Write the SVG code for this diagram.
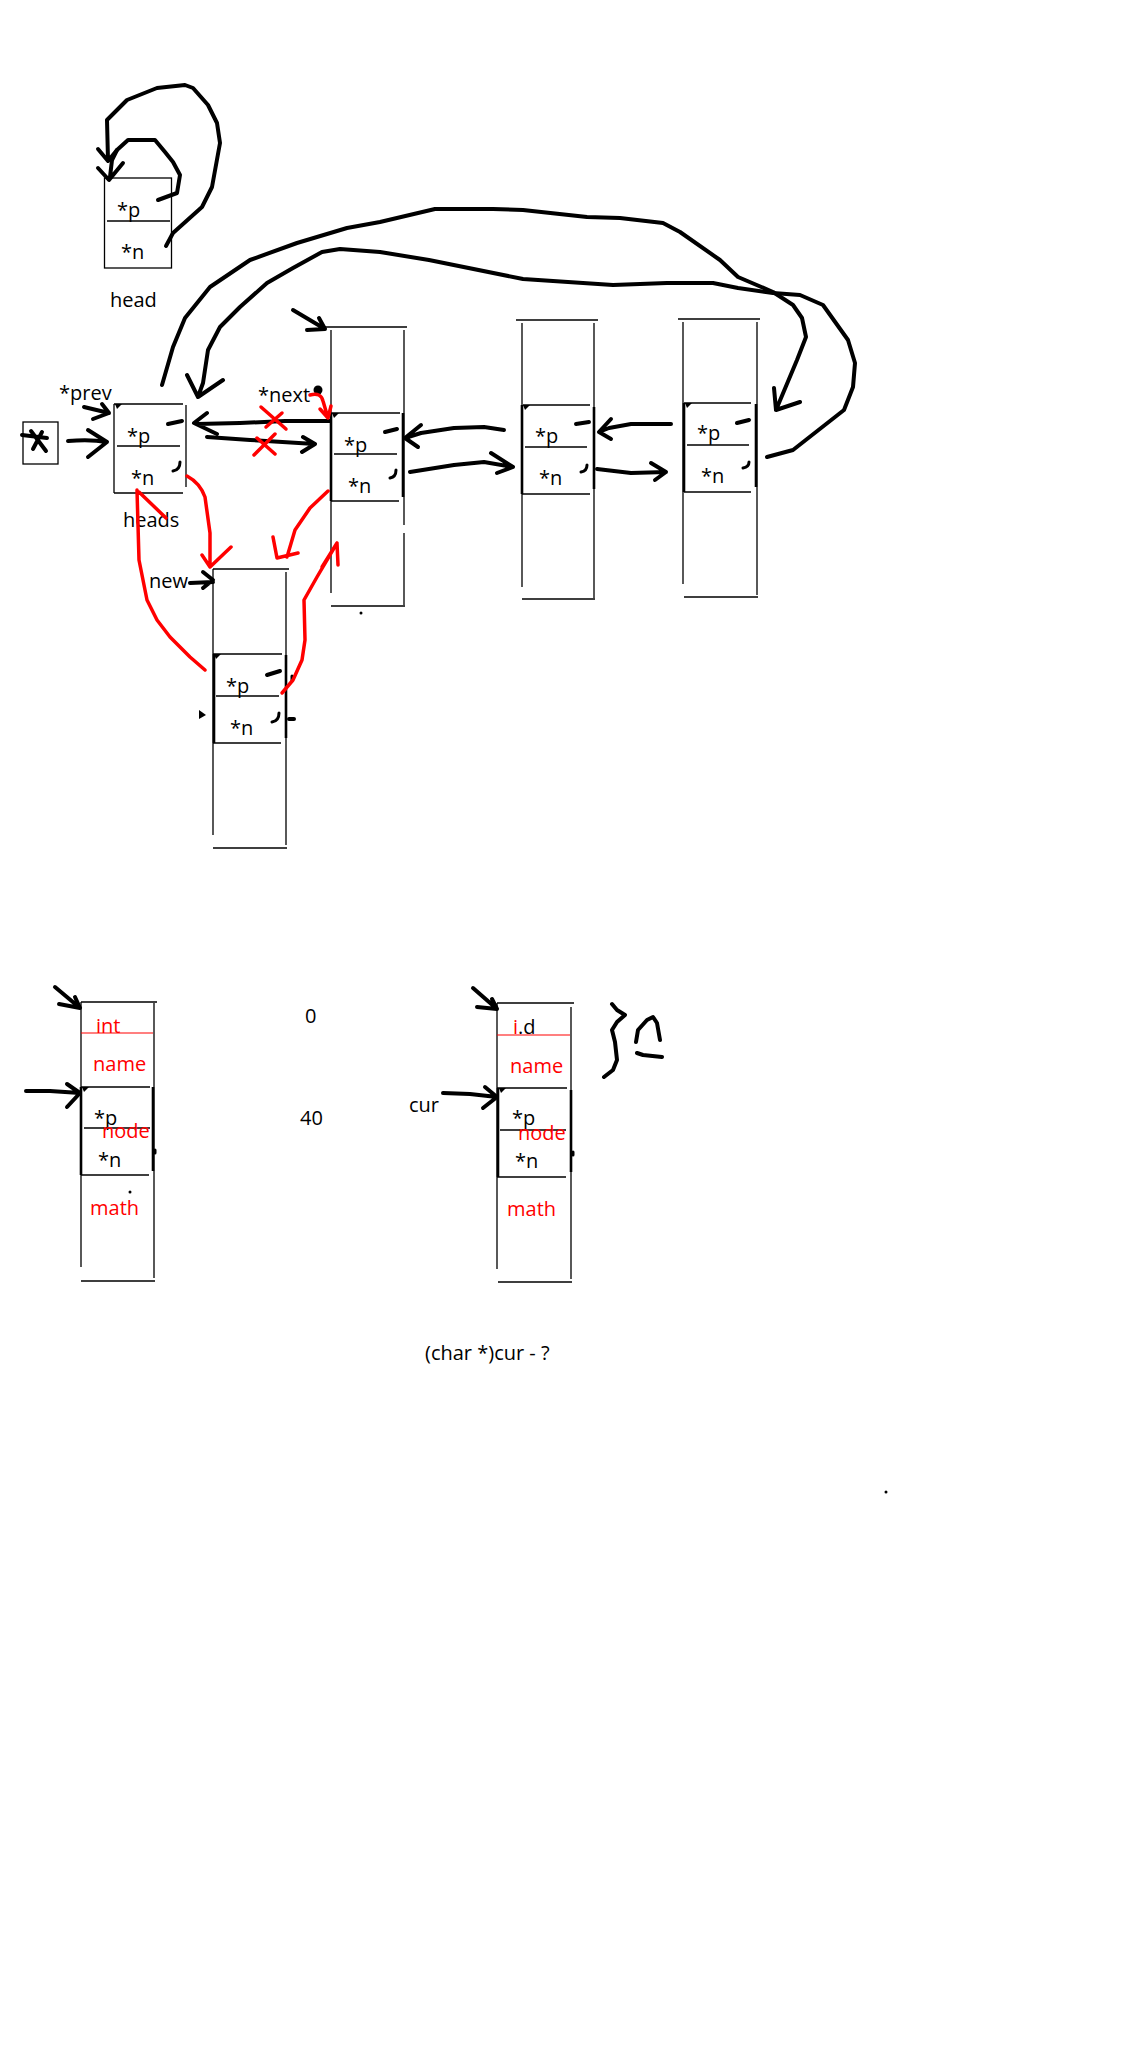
<svg xmlns="http://www.w3.org/2000/svg" width="1134" height="2048" viewBox="0 0 1134 2048">
<style>
.b{fill:none;stroke:#000;stroke-width:1.3}
.bb{fill:none;stroke:#000;stroke-width:2.6}
.rl{fill:none;stroke:#f00;stroke-width:1.2}
.pen{fill:none;stroke:#000;stroke-width:4;stroke-linecap:round;stroke-linejoin:round}
.pen3{fill:none;stroke:#000;stroke-width:3;stroke-linecap:round;stroke-linejoin:round}
.red{fill:none;stroke:#f00;stroke-width:3.5;stroke-linecap:round;stroke-linejoin:round}
text{font-family:"Open Sans","Noto Sans",sans-serif;font-size:20px;fill:#000}
.rt{fill:#f00}
</style>
<rect width="1134" height="2048" fill="#fff"/>
<g id="node-head">
<rect x="104.5" y="178" width="67" height="90" class="b"/>
<line x1="107" y1="221" x2="170" y2="221" class="b"/>
<text x="117" y="217">*p</text>
<text x="121" y="259">*n</text>
<text x="110" y="307">head</text>
</g>
<g id="node-x">
<rect x="23" y="422" width="35" height="42" class="b"/>
<path class="pen" d="M22,435 L47,438 M31,431 L46,451 M42,432 L33,449"/>
</g>
<g id="node-heads">
<path class="b" d="M114,404 L183,404 M114,404 L114,493 M114,493 L183,493 M186,405 L186,487 M117,446 L180,446"/>
<polygon points="115,404 122,404 117,409" fill="#000"/>
<path class="pen" d="M168,424 L182,421"/>
<path class="pen3" d="M173,471 Q180,470 180,462"/>
<text x="127" y="443">*p</text>
<text x="131" y="485">*n</text>
<text x="123" y="527">heads</text>
<text x="59" y="400">*prev</text>
</g>
<g id="node-2">
<path class="b" d="M325,327 L407,327 M331,330 L331,593 M404,330 L404,525 M404,533 L404,605 M331,606 L405,606 M331,413 L400,413 M334,454 L397,454 M331,501 L399,501"/>
<path class="bb" d="M331,413 L331,501 M403,413 L403,497"/>
<polygon points="332,413 339,413 334,418" fill="#000"/>
<circle cx="361" cy="613" r="1.5" fill="#000"/>
<path class="pen" d="M385,432 L397,429"/>
<path class="pen3" d="M390,478 Q396,477 396,470"/>
<text x="344" y="452">*p</text>
<text x="348" y="493">*n</text>
<text x="258" y="402">*next</text>
<circle cx="318" cy="390" r="4.5" fill="#000"/>
</g>
<g id="node-3">
<path class="b" d="M516,320 L598,320 M522,323 L522,587 M594,323 L594,598 M522,599 L595,599 M523,405 L590,405 M525,447 L587,447 M522,494 L590,494"/>
<path class="bb" d="M522,405 L522,494 M594,407 L594,489"/>
<polygon points="523,405 530,405 525,410" fill="#000"/>
<path class="pen" d="M576,424 L589,422"/>
<path class="pen3" d="M581,472 Q587,471 587,465"/>
<text x="535" y="443">*p</text>
<text x="539" y="485">*n</text>
</g>
<g id="node-4">
<path class="b" d="M678,319 L760,319 M683,322 L683,584 M757,322 L757,595 M684,597 L758,597 M684,403 L751,403 M687,445 L749,445 M684,492 L751,492"/>
<path class="bb" d="M684,403 L684,492 M756,404 L756,487"/>
<polygon points="685,403 692,403 687,408" fill="#000"/>
<path class="pen" d="M737,423 L749,420"/>
<path class="pen3" d="M743,468 Q749,467 749,462"/>
<text x="697" y="440">*p</text>
<text x="701" y="483">*n</text>
</g>
<g id="node-new">
<path class="b" d="M213,569 L289,569 M213,569 L213,835 M286,572 L286,845 M213,848 L287,848 M213,654 L282,654 M216,696 L279,696 M213,743 L281,743"/>
<path class="bb" d="M214,654 L214,743 M286,655 L286,738"/>
<polygon points="214,654 221,654 216,659" fill="#000"/>
<polygon points="199,710 206,715 199,719" fill="#000"/>
<path class="pen" d="M267,675 L280,671 M289,719 L294,719"/>
<path class="pen3" d="M272,722 Q279,721 279,713 M292,676 L292,681"/>
<text x="226" y="693">*p</text>
<text x="230" y="735">*n</text>
<text x="149" y="588">new</text>
</g>
<g id="struct-1">
<path class="b" d="M81,1002 L157,1002 M81,1002 L81,1267 M154,1003 L154,1278 M81,1281 L155,1281 M81,1087 L150,1087 M84,1128 L150,1128 M81,1175 L149,1175"/>
<path class="bb" d="M81,1087 L81,1175 M153,1087 L153,1171"/>
<polygon points="82,1087 89,1087 84,1092" fill="#000"/>
<path class="rl" d="M81,1033 L153,1033"/>
<text x="94" y="1125">*p</text>
<text x="98" y="1167">*n</text>
<text class="rt" x="96" y="1033">int</text>
<text class="rt" x="93" y="1071">name</text>
<text class="rt" x="102" y="1138">node</text>
<text class="rt" x="90" y="1215">math</text>
<circle cx="130" cy="1192" r="1.5" fill="#000"/>
<path class="pen3" d="M155,1150 L155,1153"/>
<text x="305" y="1023">0</text>
<text x="300" y="1125">40</text>
</g>
<g id="struct-2">
<path class="b" d="M497,1003 L574,1003 M497,1003 L497,1269 M571,1007 L571,1279 M498,1282 L572,1282 M497,1088 L567,1088 M500,1130 L566,1130 M497,1177 L566,1177"/>
<path class="bb" d="M498,1088 L498,1177 M571,1090 L571,1172"/>
<polygon points="499,1088 506,1088 501,1093" fill="#000"/>
<path class="rl" d="M497,1035 L570,1035"/>
<text x="512" y="1125">*p</text>
<text x="515" y="1168">*n</text>
<text class="rt" x="513" y="1034">i<tspan fill="#000">.d</tspan></text>
<text class="rt" x="510" y="1073">name</text>
<text class="rt" x="518" y="1140">node</text>
<text class="rt" x="507" y="1216">math</text>
<path class="pen3" d="M573,1152 L573,1155"/>
<text x="409" y="1112">cur</text>
<text x="425" y="1360">(char *)cur - ?</text>
<path class="pen" d="M612,1004 L617,1010 L625,1015 L617,1022 L612,1030 L615,1042 L617,1060 L613,1070 L604,1077"/>
<path class="pen" d="M636,1042 L638,1030 L647,1020 L653,1017 L657,1023 L660,1040 M637,1053 L643,1055 L662,1057"/>
</g>
<circle cx="886" cy="1492" r="1.5" fill="#000"/>
<g id="connectors">
<path class="pen" d="M166,246 L173,233 L202,207 L212,187 L220,143 L217,123 L208,105 L193,88 L185,85 L157,88 L127,100 L107,120 L108,160 M98,149 L108,161 L117,150"/>
<path class="pen" d="M158,200 L177,193 L180,175 L173,162 L165,152 L155,140 L128,140 L117,150 L112,160 L110,177 M98,168 L109,180 L123,163"/>
<path class="pen" d="M68,441 Q90,439 107,442 M88,430 L107,442 L88,457"/>
<path class="pen" d="M84,407 L109,413 M93,419 L109,413 L102,404"/>
<path class="pen" d="M330,421 L285,421 L240,423 L197,424 M207,413 L194,423 L217,434"/>
<path class="pen" d="M207,437 L250,440 L315,444 M303,437 L315,444 L302,452"/>
<path class="pen" d="M293,310 L325,329 M307,330 L325,329 L319,318"/>
<path class="pen" d="M190,583 L213,582 M203,572 L213,580 L203,588"/>
<path class="pen" d="M162,385 L173,347 L185,318 L210,287 L250,260 L297,243 L347,228 L380,222 L435,209 L493,209 L523,210 L587,217 L620,218 L663,223 L680,232 L720,260 L738,277 L773,292 L793,305 L802,318 L806,337 L797,360 L776,410 M774,388 L776,410 L800,402"/>
<path class="pen" d="M199,394 L203,383 L208,350 L220,327 L240,307 L267,283 L293,268 L322,252 L340,249 L380,252 L429,260 L523,279 L613,285 L667,283 L713,283 L738,288 L773,293 L800,295 L823,305 L848,340 L855,363 L853,387 L844,410 L793,450 L767,457 M187,375 L198,397 L223,380"/>
<path class="pen" d="M504,430 L484,427 L454,428 L421,433 L405,438 M421,425 L405,438 L418,447"/>
<path class="pen" d="M410,472 L454,465 L484,462 L513,467 M491,453 L513,467 L497,473"/>
<path class="pen" d="M671,424 L631,424 L609,428 L599,432 M611,419 L599,432 L611,439"/>
<path class="pen" d="M597,469 L631,473 L666,472 M651,463 L666,472 L655,480"/>
<path class="pen" d="M55,987 L80,1008 M59,1004 L80,1008 L75,997"/>
<path class="pen" d="M26,1091 L50,1091 L80,1093 M67,1084 L80,1093 L67,1107"/>
<path class="pen" d="M473,988 L497,1009 M477,1007 L497,1009 L492,999"/>
<path class="pen" d="M443,1093 L470,1094 L497,1097 M485,1087 L497,1097 L483,1108"/>
<path class="red" d="M261,407 L286,429 M282,413 L266,427"/>
<path class="red" d="M254,455 L275,434 M257,438 L275,454"/>
<path class="red" d="M310,395 Q321,392 323,401 L328,418 M320,409 L328,418 L331,406"/>
<path class="red" d="M187,476 Q200,483 205,497 L210,533 L210,567 M202,555 L210,567 L231,547"/>
<path class="red" d="M328,491 L310,508 L295,530 L287,557 M273,537 L277,558 L298,553"/>
<path class="red" d="M282,693 L293,680 L302,660 L305,640 L304,600 L317,577 L337,543 M322,567 L337,543 L338,565"/>
<path class="red" d="M205,670 L190,657 L170,637 L157,620 L147,600 L139,560 L137,490 M139,492 L166,518"/>
</g>
</svg>
